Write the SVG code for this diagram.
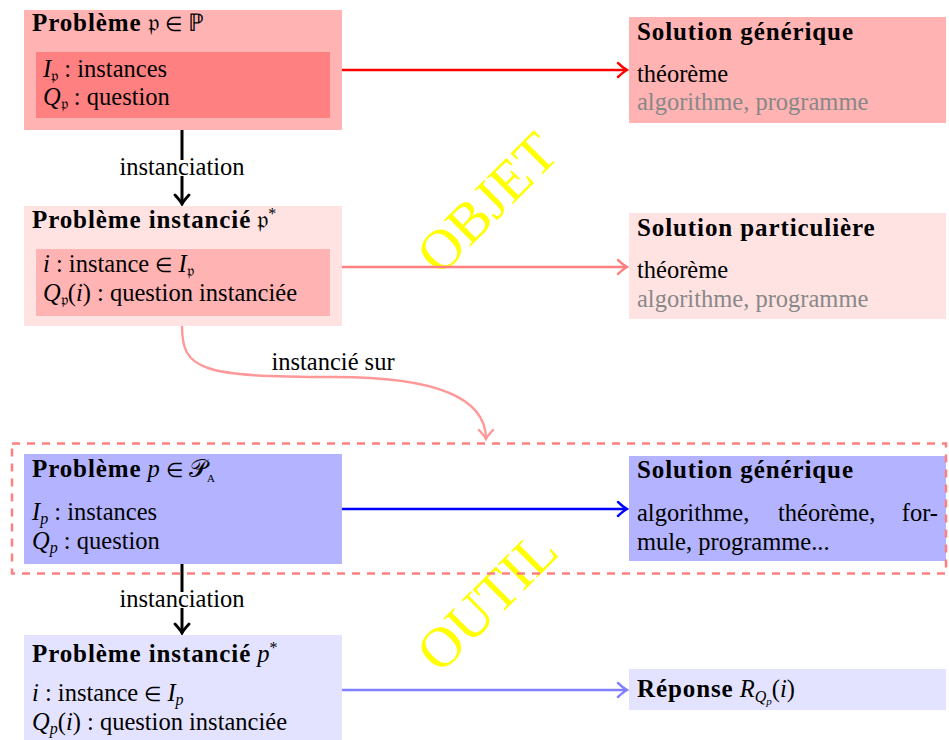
<svg xmlns="http://www.w3.org/2000/svg" width="949" height="740" viewBox="0 0 949 740" font-family="'Liberation Serif', 'Times New Roman', serif">
<style>
text{font-family:"Liberation Serif","Times New Roman",serif;font-size:24.5px;fill:#000}
.b{font-weight:bold;font-size:25px;letter-spacing:0.9px}
.i{font-style:italic}
.s{font-size:16px}
.e{font-size:20px}
.g{fill:#888888}
.big{font-size:57px;fill:#FFFF00}
.c{fill:none;stroke-width:2.4}
</style>
<defs>
<marker id="mk" markerUnits="userSpaceOnUse" viewBox="-12 -10 14 20" markerWidth="14" markerHeight="20" refX="0" refY="0" orient="auto"><path d="M-9,-7 Q-3,-1.5 0,0 Q-3,1.5 -9,7" fill="none" stroke="#000" stroke-width="2.8" stroke-linecap="round"/></marker>
<marker id="mr" markerUnits="userSpaceOnUse" viewBox="-12 -10 14 20" markerWidth="14" markerHeight="20" refX="0" refY="0" orient="auto"><path d="M-9,-7 Q-3,-1.5 0,0 Q-3,1.5 -9,7" fill="none" stroke="#FF0000" stroke-width="2.4" stroke-linecap="round"/></marker>
<marker id="mp" markerUnits="userSpaceOnUse" viewBox="-12 -10 14 20" markerWidth="14" markerHeight="20" refX="0" refY="0" orient="auto"><path d="M-9,-7 Q-3,-1.5 0,0 Q-3,1.5 -9,7" fill="none" stroke="#FF8080" stroke-width="2.4" stroke-linecap="round"/></marker>
<marker id="mq" markerUnits="userSpaceOnUse" viewBox="-12 -10 14 20" markerWidth="14" markerHeight="20" refX="0" refY="0" orient="auto"><path d="M-9,-7 Q-3,-1.5 0,0 Q-3,1.5 -9,7" fill="none" stroke="#FF9999" stroke-width="2.4" stroke-linecap="round"/></marker>
<marker id="mb" markerUnits="userSpaceOnUse" viewBox="-12 -10 14 20" markerWidth="14" markerHeight="20" refX="0" refY="0" orient="auto"><path d="M-9,-7 Q-3,-1.5 0,0 Q-3,1.5 -9,7" fill="none" stroke="#0000FF" stroke-width="2.4" stroke-linecap="round"/></marker>
<marker id="ml" markerUnits="userSpaceOnUse" viewBox="-12 -10 14 20" markerWidth="14" markerHeight="20" refX="0" refY="0" orient="auto"><path d="M-9,-7 Q-3,-1.5 0,0 Q-3,1.5 -9,7" fill="none" stroke="#8080FF" stroke-width="2.4" stroke-linecap="round"/></marker>
</defs>
<rect width="949" height="740" fill="#fff"/>

<g id="watermarks">
<text class="big" text-anchor="middle" transform="translate(487,203) rotate(-45)" y="19">OBJET</text>
<text class="big" text-anchor="middle" transform="translate(487,601) rotate(-45)" y="19">OUTIL</text>
</g>

<g id="probleme">
<rect x="24" y="10" width="318" height="120" fill="#FFB3B3"/>
<rect x="36" y="52" width="294" height="66" fill="#FF8080"/>
<text x="32" y="31"><tspan class="b">Problème</tspan> 𝔭 <tspan class="e">∈</tspan> ℙ</text>
<text x="43" y="77"><tspan class="i">I</tspan><tspan class="s" dy="4">𝔭</tspan><tspan dy="-4"> : instances</tspan></text>
<text x="43" y="105"><tspan class="i">Q</tspan><tspan class="s" dy="4">𝔭</tspan><tspan dy="-4"> : question</tspan></text>
</g>

<g id="solution-generique-1">
<rect x="629" y="17" width="317" height="106" fill="#FFB3B3"/>
<text x="637" y="40" class="b">Solution générique</text>
<text x="637" y="82">théorème</text>
<text x="637" y="110" class="g">algorithme, programme</text>
</g>

<g id="probleme-instancie">
<rect x="24" y="206" width="318" height="120" fill="#FFE3E3"/>
<rect x="36" y="249" width="294" height="67" fill="#FFB3B3"/>
<text x="32" y="228"><tspan class="b">Problème instancié</tspan> 𝔭<tspan class="s" dy="-9">*</tspan></text>
<text x="43" y="272"><tspan class="i">i</tspan> : instance <tspan class="e">∈</tspan> <tspan class="i">I</tspan><tspan class="s" dy="4">𝔭</tspan></text>
<text x="43" y="301"><tspan class="i">Q</tspan><tspan class="s" dy="4">𝔭</tspan><tspan dy="-4">(</tspan><tspan class="i">i</tspan>) : question instanciée</text>
</g>

<g id="solution-particuliere">
<rect x="629" y="213" width="317" height="106" fill="#FFE3E3"/>
<text x="637" y="236" class="b">Solution particulière</text>
<text x="637" y="278">théorème</text>
<text x="637" y="307" class="g">algorithme, programme</text>
</g>

<g id="probleme-p">
<rect x="24" y="454" width="318" height="110" fill="#B3B3FF"/>
<text x="32" y="477"><tspan class="b">Problème</tspan> <tspan class="i">p</tspan> <tspan class="e">∈</tspan> 𝒫<tspan font-size="11" dy="5">A</tspan></text>
<text x="32" y="520"><tspan class="i">I</tspan><tspan class="s i" dy="4">p</tspan><tspan dy="-4"> : instances</tspan></text>
<text x="32" y="549"><tspan class="i">Q</tspan><tspan class="s i" dy="4">p</tspan><tspan dy="-4"> : question</tspan></text>
</g>

<g id="solution-generique-2">
<rect x="629" y="456" width="317" height="105" fill="#B3B3FF"/>
<text x="637" y="478" class="b">Solution générique</text>
<text x="637" y="521">algorithme,</text>
<text x="778" y="521">théorème,</text>
<text x="938" y="521" text-anchor="end">for-</text>
<text x="637" y="550">mule, programme...</text>
</g>

<g id="probleme-instancie-p">
<rect x="24" y="635" width="318" height="105" fill="#E3E3FF"/>
<text x="32" y="662"><tspan class="b">Problème instancié</tspan> <tspan class="i">p</tspan><tspan class="s" dy="-9">*</tspan></text>
<text x="32" y="701"><tspan class="i">i</tspan> : instance <tspan class="e">∈</tspan> <tspan class="i">I</tspan><tspan class="s i" dy="4">p</tspan></text>
<text x="32" y="730"><tspan class="i">Q</tspan><tspan class="s i" dy="4">p</tspan><tspan dy="-4">(</tspan><tspan class="i">i</tspan>) : question instanciée</text>
</g>

<g id="reponse">
<rect x="629" y="669" width="317" height="41" fill="#E3E3FF"/>
<text x="637" y="697"><tspan class="b">Réponse</tspan> <tspan class="i">R</tspan><tspan class="s i" dy="5">Q</tspan><tspan font-size="11" class="i" dy="3">p</tspan><tspan dy="-8">(</tspan><tspan class="i">i</tspan>)</text>
</g>

<g id="connectors">
<rect x="12" y="443.5" width="934" height="130" fill="none" stroke="#FF8080" stroke-width="2.5" stroke-dasharray="8 7"/>
<line class="c" x1="342" y1="70" x2="627" y2="70" stroke="#FF0000" marker-end="url(#mr)"/>
<line class="c" x1="342" y1="267" x2="627" y2="267" stroke="#FF8080" marker-end="url(#mp)"/>
<line class="c" x1="342" y1="509" x2="627" y2="509" stroke="#0000FF" marker-end="url(#mb)"/>
<line class="c" x1="342" y1="690" x2="627" y2="690" stroke="#8080FF" marker-end="url(#ml)"/>
<line x1="182" y1="130" x2="182" y2="204" stroke="#000" stroke-width="3" marker-end="url(#mk)"/>
<line x1="182" y1="564" x2="182" y2="633" stroke="#000" stroke-width="3" marker-end="url(#mk)"/>
<path class="c" d="M182,326 C182,370 200,377 335,377 C430,377 486,395 486,439" stroke="#FF9999" marker-end="url(#mq)"/>
<rect x="117" y="160" width="130" height="16" fill="#fff"/>
<text x="182" y="175" text-anchor="middle">instanciation</text>
<rect x="117" y="592" width="130" height="16" fill="#fff"/>
<text x="182" y="607" text-anchor="middle">instanciation</text>
<text x="333" y="370" text-anchor="middle">instancié sur</text>
</g>
</svg>
